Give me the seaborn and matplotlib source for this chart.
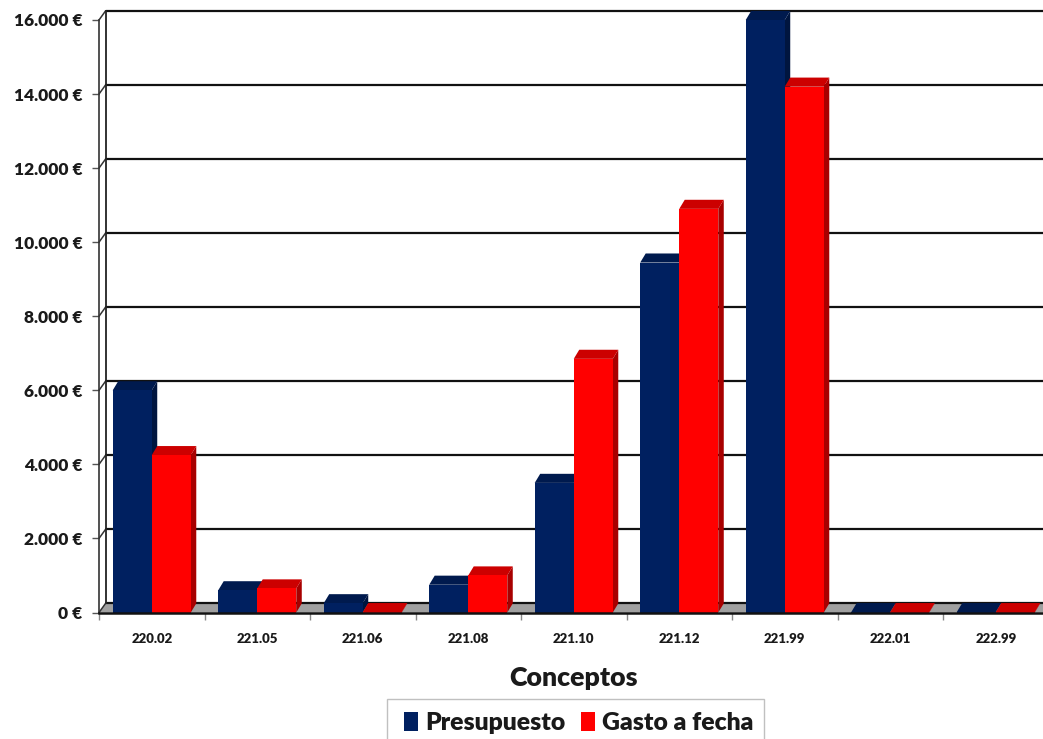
import matplotlib
matplotlib.use("Agg")
import matplotlib.pyplot as plt
import pandas as pd
import seaborn as sns
from matplotlib.patches import Polygon, Rectangle

# data
conceptos = ["220.02", "221.05", "221.06", "221.08", "221.10", "221.12", "221.99", "222.01", "222.99"]
presupuesto = [6000, 600, 250, 750, 3500, 9450, 16000, 10, 10]
gasto = [4250, 650, 10, 1000, 6850, 10900, 14200, 10, 10]
y_ticks = [0, 2000, 4000, 6000, 8000, 10000, 12000, 14000, 16000]
y_labels = ["0 €", "2.000 €", "4.000 €", "6.000 €", "8.000 €", "10.000 €", "12.000 €", "14.000 €", "16.000 €"]

# colours: front, top, side of the fake 3d bars
blue = ("#002060", "#001a4e", "#00153f")
red = ("#ff0000", "#cc0000", "#a80000")

sns.set_theme(style="white")
plt.rcParams["font.family"] = ["Lato", "DejaVu Sans"]
plt.rcParams["font.weight"] = "bold"

df = pd.DataFrame({
    "concepto": conceptos * 2,
    "valor": presupuesto + gasto,
    "serie": ["Presupuesto"] * len(conceptos) + ["Gasto a fecha"] * len(conceptos),
})

# axes runs off the right edge like in the original picture
fig = plt.figure(figsize=(10.43, 7.39), dpi=100)
ax = fig.add_axes([99 / 1043, (739 - 612.5) / 739, 949.5 / 1043, 592.5 / 739])

sns.barplot(data=df, x="concepto", y="valor", hue="serie", width=0.74, gap=0,
            palette=[blue[0], red[0]], saturation=1, errorbar=None, ax=ax, legend=True,
            linewidth=0, edgecolor="none")

ax.set_xlim(-0.5, 8.5)
ax.set_ylim(0, 16000)
ax.patch.set_alpha(0)

# depth of the walls and of the bars, in data units
wall_dx, wall_dy = 0.062, 245
bar_dx, bar_dy = 0.052, 245

# floor
ax.add_patch(Polygon([(-0.5, 0), (8.5, 0), (8.5 + wall_dx, wall_dy), (-0.5 + wall_dx, wall_dy)],
                     fc="#a0a0a0", ec="none", zorder=1, clip_on=False))

# gridlines on the back wall and little diagonals to the front axis
for t in y_ticks:
    ax.plot([-0.5 + wall_dx, 8.6], [t + wall_dy, t + wall_dy], color="#111111", lw=1.6, zorder=1.5, clip_on=False)
    ax.plot([-0.5, -0.5 + wall_dx], [t, t + wall_dy], color="#333333", lw=1.1, zorder=1.5, clip_on=False)
ax.plot([-0.5 + wall_dx] * 2, [wall_dy, 16000 + wall_dy], color="#222222", lw=1.3, zorder=1.5, clip_on=False)

# side and top faces for each bar, blue first so the red ones overlap it
for colors, bars, base in zip((blue, red), ax.containers, (2, 20)):
    for i, bar in enumerate(bars):
        x0 = bar.get_x()
        x1 = x0 + bar.get_width()
        h = bar.get_height()
        z = base + i
        ax.add_patch(Polygon([(x1, 0), (x1 + bar_dx, bar_dy), (x1 + bar_dx, h + bar_dy), (x1, h)],
                             fc=colors[2], ec="none", zorder=z, clip_on=False))
        ax.add_patch(Polygon([(x0, h), (x0 + bar_dx, h + bar_dy), (x1 + bar_dx, h + bar_dy), (x1, h)],
                             fc=colors[1], ec="none", zorder=z, clip_on=False))
        bar.set_zorder(z + 0.5)

sns.despine(ax=ax, top=True, right=True)
ax.spines["left"].set_color("#333333")
ax.spines["left"].set_linewidth(1.2)
ax.spines["bottom"].set_color("#111111")
ax.spines["bottom"].set_linewidth(1.8)
ax.spines["bottom"].set_zorder(50)

ax.set_yticks(y_ticks)
ax.set_yticklabels(y_labels, fontsize=12.5, color="#1a1a1a", fontweight="heavy")
ax.tick_params(axis="y", length=5, width=1, color="#555555", left=True, pad=7)

ax.set_xticks(range(len(conceptos)))
ax.set_xticklabels(conceptos, fontsize=9.5, color="#1a1a1a", fontweight="heavy")
ax.set_xticks([i - 0.5 for i in range(len(conceptos) + 1)], minor=True)
ax.tick_params(axis="x", which="major", length=0, pad=15)
ax.tick_params(axis="x", which="minor", length=5, width=1, color="#888888", bottom=True)

ax.set_ylabel("")
ax.set_xlabel("Conceptos", fontsize=19.3, fontweight="heavy", color="#1a1a1a", labelpad=15)

# legend box is cut by the bottom of the picture, so it is drawn apart from the entries
fig.add_artist(Rectangle((387 / 1043, -0.01), 377 / 1043, 40 / 739 + 0.01, transform=fig.transFigure,
                         fc="white", ec="#c0c0c0", lw=1))

handles, labels = ax.get_legend_handles_labels()
ax.get_legend().remove()
fig.legend(handles, labels, loc="lower left", bbox_to_anchor=(374 / 1043, -25 / 739), ncol=2,
           frameon=False, prop={"size": 17.8, "weight": "heavy"}, handlelength=0.6, handleheight=0.8,
           handletextpad=0.28, columnspacing=0.6, borderpad=0.7, labelcolor="#1a1a1a")

fig.savefig("out.png", dpi=100)
